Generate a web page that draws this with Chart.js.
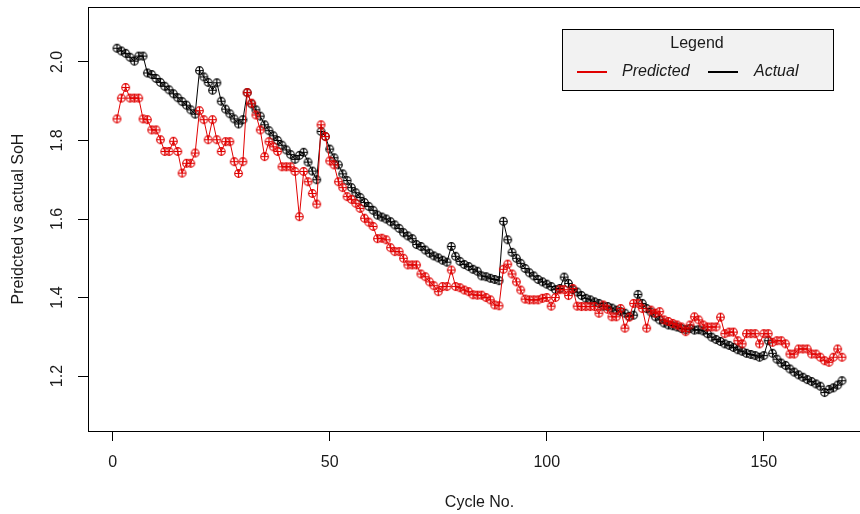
<!DOCTYPE html>
<html>
<head>
<meta charset="utf-8">
<script src="https://cdn.jsdelivr.net/npm/chart.js@4.4.1/dist/chart.umd.min.js"></script>
<style>
  html, body { margin: 0; padding: 0; background: #fff; overflow: hidden; }
  #wrap { width: 900px; height: 514px; }
</style>
</head>
<body>
<div id="wrap"><canvas id="myChart" width="900" height="514"></canvas></div>
<script>
// values, cycle 1..168
const predicted = [
  1.855, 1.908, 1.935, 1.908, 1.908, 1.908, 1.855, 1.853, 1.827, 1.827,
  1.802, 1.772, 1.772, 1.798, 1.772, 1.717, 1.742, 1.742, 1.768, 1.876,
  1.853, 1.802, 1.853, 1.802, 1.772, 1.797, 1.797, 1.746, 1.716, 1.746,
  1.922, 1.895, 1.865, 1.827, 1.759, 1.797, 1.784, 1.772, 1.733, 1.733,
  1.733, 1.721, 1.606, 1.721, 1.695, 1.665, 1.638, 1.840, 1.810, 1.748,
  1.738, 1.695, 1.680, 1.657, 1.650, 1.640, 1.627, 1.602, 1.592, 1.581,
  1.550, 1.551, 1.547, 1.527, 1.517, 1.517, 1.500, 1.483, 1.483, 1.483,
  1.460, 1.453, 1.440, 1.430, 1.415, 1.428, 1.428, 1.470, 1.428, 1.425,
  1.419, 1.415, 1.407, 1.406, 1.406, 1.400, 1.394, 1.381, 1.379, 1.472,
  1.485, 1.460, 1.440, 1.419, 1.396, 1.394, 1.394, 1.394, 1.398, 1.400,
  1.378, 1.400, 1.420, 1.420, 1.405, 1.423, 1.378, 1.377, 1.377, 1.377,
  1.377, 1.360, 1.381, 1.370, 1.351, 1.351, 1.372, 1.322, 1.350, 1.385,
  1.385, 1.372, 1.322, 1.368, 1.360, 1.364, 1.343, 1.339, 1.334, 1.330,
  1.325, 1.313, 1.330, 1.351, 1.343, 1.330, 1.325, 1.325, 1.325, 1.350,
  1.308, 1.312, 1.312, 1.290, 1.282, 1.308, 1.308, 1.308, 1.282, 1.308,
  1.308, 1.286, 1.290, 1.290, 1.282, 1.256, 1.256, 1.269, 1.269, 1.269,
  1.256, 1.256, 1.248, 1.239, 1.235, 1.248, 1.269, 1.248
];
const actual = [
  2.035, 2.028, 2.022, 2.012, 2.002, 2.015, 2.015, 1.972, 1.968, 1.958,
  1.948, 1.938, 1.929, 1.919, 1.909, 1.899, 1.890, 1.878, 1.867, 1.978,
  1.962, 1.948, 1.928, 1.947, 1.900, 1.880, 1.868, 1.855, 1.842, 1.853,
  1.922, 1.893, 1.878, 1.862, 1.840, 1.825, 1.812, 1.800, 1.788, 1.776,
  1.764, 1.752, 1.762, 1.770, 1.745, 1.722, 1.700, 1.823, 1.810, 1.778,
  1.756, 1.738, 1.715, 1.698, 1.680, 1.667, 1.655, 1.642, 1.632, 1.622,
  1.610, 1.605, 1.600, 1.593, 1.585, 1.576, 1.565, 1.557, 1.550, 1.535,
  1.530, 1.521, 1.513, 1.506, 1.501, 1.495, 1.490, 1.530, 1.505, 1.492,
  1.484, 1.479, 1.472, 1.467, 1.455, 1.453, 1.449, 1.446, 1.443, 1.594,
  1.547, 1.515, 1.500, 1.487, 1.474, 1.463, 1.455, 1.446, 1.440, 1.434,
  1.428, 1.420, 1.423, 1.452, 1.436, 1.420, 1.414, 1.405, 1.398, 1.394,
  1.389, 1.385, 1.378, 1.377, 1.373, 1.368, 1.364, 1.360, 1.352, 1.355,
  1.408, 1.385, 1.372, 1.363, 1.351, 1.343, 1.335, 1.330, 1.328, 1.325,
  1.321, 1.318, 1.321, 1.317, 1.318, 1.315, 1.308, 1.299, 1.293, 1.288,
  1.282, 1.278, 1.273, 1.267, 1.263, 1.258, 1.255, 1.252, 1.248, 1.252,
  1.290, 1.258, 1.243, 1.233, 1.227, 1.218, 1.210, 1.203, 1.197, 1.191,
  1.186, 1.180, 1.174, 1.158, 1.166, 1.170, 1.177, 1.188
];
const cycles = predicted.map((v, i) => i + 1);
const xTicks = [0, 50, 100, 150];
const yTicks = [1.2, 1.4, 1.6, 1.8, 2.0];

const FONT = '"Liberation Sans", Arial, sans-serif';

// circle with a plus inside, like R's pch=10
function circlePlus(color) {
  let c = document.createElement('canvas');
  c.width = 11; c.height = 11;
  let g = c.getContext('2d');
  g.strokeStyle = color;
  g.lineWidth = 1.2;
  g.beginPath();
  g.arc(5.5, 5.5, 3.8, 0, Math.PI * 2);
  g.moveTo(5.5, 1.2); g.lineTo(5.5, 9.8);
  g.moveTo(1.2, 5.5); g.lineTo(9.8, 5.5);
  g.stroke();
  return c;
}

const extras = {
  id: 'extras',
  afterDraw(chart) {
    const ctx = chart.ctx;
    const a = chart.chartArea;
    const ys = chart.scales.y;
    ctx.save();
    // frame
    ctx.strokeStyle = '#000';
    ctx.lineWidth = 1;
    ctx.strokeRect(Math.round(a.left) + 0.5, Math.round(a.top) + 0.5,
      Math.round(a.right - a.left), Math.round(a.bottom - a.top));
    ctx.fillStyle = '#1a1a1a';
    ctx.font = '16px ' + FONT;
    ctx.textAlign = 'center';
    ctx.textBaseline = 'middle';
    // y tick labels, rotated like R
    yTicks.forEach(v => {
      ctx.save();
      ctx.translate(58, ys.getPixelForValue(v));
      ctx.rotate(-Math.PI / 2);
      ctx.fillText(v.toFixed(1), 0, 0);
      ctx.restore();
    });
    // axis titles
    ctx.save();
    ctx.translate(19, (a.top + a.bottom) / 2);
    ctx.rotate(-Math.PI / 2);
    ctx.fillText('Preidcted vs actual SoH', 0, 0);
    ctx.restore();
    ctx.fillText('Cycle No.', (a.left + a.right) / 2, 503);

    // legend box
    ctx.fillStyle = '#f2f2f2';
    ctx.fillRect(562, 29, 271, 61);
    ctx.strokeStyle = '#000';
    ctx.strokeRect(562.5, 29.5, 271, 61);
    ctx.fillStyle = '#1a1a1a';
    ctx.fillText('Legend', 697, 44);
    ctx.lineWidth = 2;
    ctx.strokeStyle = '#e00000';
    ctx.beginPath(); ctx.moveTo(577, 72); ctx.lineTo(607, 72); ctx.stroke();
    ctx.strokeStyle = '#000';
    ctx.beginPath(); ctx.moveTo(708, 72); ctx.lineTo(738, 72); ctx.stroke();
    ctx.font = 'italic 16px ' + FONT;
    ctx.textAlign = 'left';
    ctx.fillText('Predicted', 622, 72);
    ctx.fillText('Actual', 754, 72);
    ctx.restore();
  }
};

new Chart(document.getElementById('myChart'), {
  type: 'line',
  data: {
    datasets: [{
      label: 'Predicted',
      data: cycles.map((c, i) => ({x: c, y: predicted[i]})),
      borderColor: '#e00000',
      borderWidth: 1,
      pointStyle: circlePlus('#e00000'),
      tension: 0
    }, {
      label: 'Actual',
      data: cycles.map((c, i) => ({x: c, y: actual[i]})),
      borderColor: '#000',
      borderWidth: 1,
      pointStyle: circlePlus('#000'),
      tension: 0
    }]
  },
  options: {
    responsive: false,
    animation: false,
    devicePixelRatio: 1,
    layout: {padding: {top: 7, right: 29, left: 0, bottom: 0}},
    plugins: {legend: {display: false}, tooltip: {enabled: false}},
    scales: {
      x: {
        type: 'linear',
        min: -5.68, max: 174.68,
        afterBuildTicks: s => { s.ticks = xTicks.map(v => ({value: v})); },
        afterFit: s => { s.height = 83; },
        grid: {drawOnChartArea: false, drawTicks: true, tickLength: 10, color: '#000'},
        border: {display: false},
        ticks: {font: {size: 16, family: FONT}, color: '#1a1a1a', padding: 12, maxRotation: 0}
      },
      y: {
        min: 1.06, max: 2.14,
        afterBuildTicks: s => { s.ticks = yTicks.map(v => ({value: v})); },
        afterFit: s => { s.width = 88; },
        grid: {drawOnChartArea: false, drawTicks: true, tickLength: 10, color: '#000'},
        border: {display: false},
        ticks: {display: false}
      }
    }
  },
  plugins: [extras]
});
</script>
</body>
</html>
